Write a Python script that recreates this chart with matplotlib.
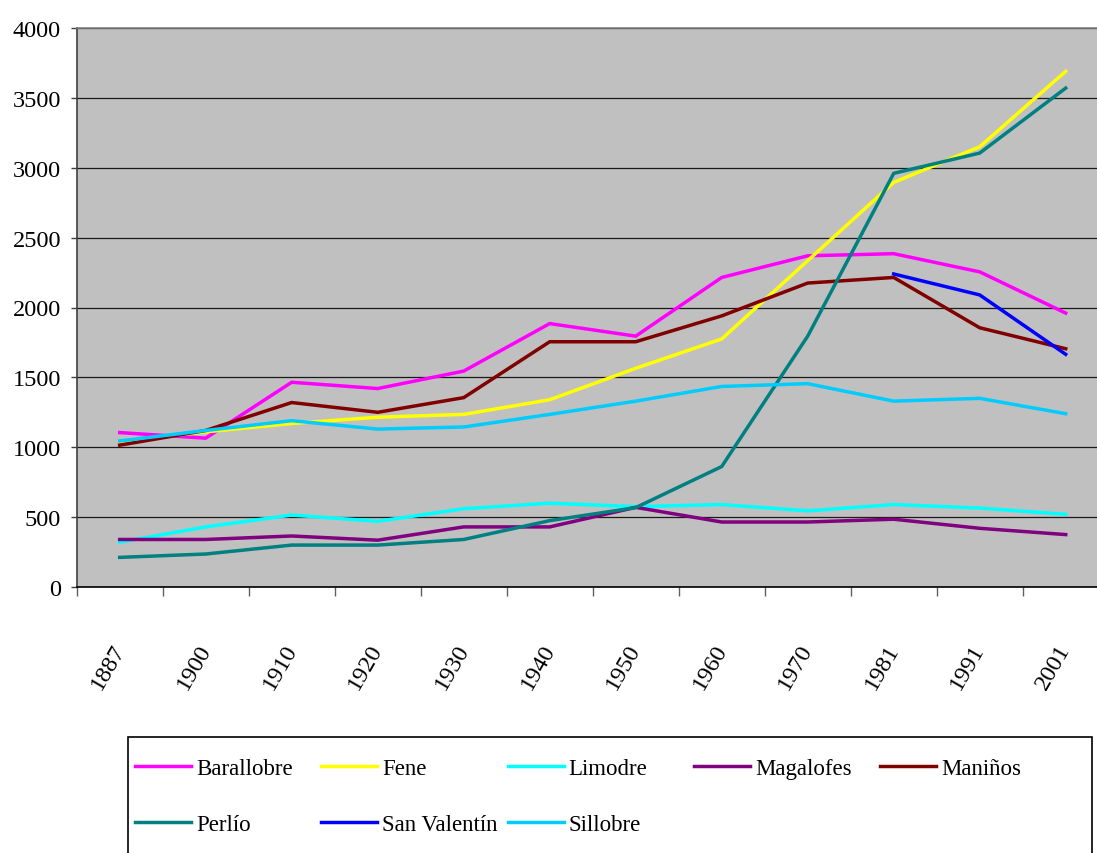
import numpy as np
import matplotlib
matplotlib.use("Agg")
import matplotlib.pyplot as plt
from matplotlib.lines import Line2D
from matplotlib.patches import Rectangle
from matplotlib.transforms import ScaledTranslation

plt.rcParams['font.family'] = ['Liberation Serif', 'DejaVu Serif']

years = ["1887", "1900", "1910", "1920", "1930", "1940",
         "1950", "1960", "1970", "1981", "1991", "2001"]

barallobre = [1105, 1065, 1465, 1420, 1545, 1885, 1795, 2215, 2370, 2385, 2255, 1960]
fene = [1040, 1110, 1170, 1215, 1235, 1340, 1565, 1775, 2335, 2895, 3150, 3690]
limodre = [320, 430, 515, 470, 560, 600, 575, 590, 545, 590, 565, 520]
magalofes = [340, 340, 365, 335, 430, 430, 570, 465, 465, 485, 420, 375]
maninos = [1015, 1120, 1320, 1250, 1355, 1755, 1755, 1940, 2175, 2215, 1855, 1705]
perlio = [212, 236, 300, 300, 340, 475, 568, 862, 1795, 2960, 3105, 3570]
san_valentin = [np.nan] * 9 + [2240, 2090, 1665]
sillobre = [1045, 1120, 1190, 1130, 1145, 1235, 1330, 1435, 1455, 1330, 1350, 1240]

series = [
    ("Barallobre", barallobre, "#FF00FF"),
    ("Fene", fene, "#FFFF00"),
    ("Limodre", limodre, "#00FFFF"),
    ("Magalofes", magalofes, "#800080"),
    ("Maniños", maninos, "#800000"),
    ("Perlío", perlio, "#008080"),
    ("San Valentín", san_valentin, "#0000FF"),
    ("Sillobre", sillobre, "#00CCFF"),
]

W, H = 1097, 854
fig = plt.figure(figsize=(W / 100, H / 100), dpi=100)
# plot area runs a bit past the right edge, as in the original
ax = fig.add_axes([76.7 / W, 1 - 588 / H, (12 * 86) / W, (588 - 29) / H])
ax.set_facecolor("#C0C0C0")

x = np.arange(len(years))
for name, vals, col in series:
    ax.plot(x, vals, color=col, lw=2.5, solid_joinstyle="miter")

ax.set_xlim(-0.5, len(years) - 0.5)
ax.set_ylim(0, 4000)
ax.set_yticks(np.arange(0, 4001, 500))
ax.yaxis.grid(True, color="#1a1a1a", lw=0.9)
ax.set_axisbelow(True)

for s in ["top", "right"]:
    ax.spines[s].set_color("#808080")
    ax.spines[s].set_linewidth(1.2)
ax.spines["left"].set_color("#404040")
ax.spines["left"].set_linewidth(1.2)
ax.spines["bottom"].set_color("#000000")
ax.spines["bottom"].set_linewidth(1.2)

ax.tick_params(axis="y", direction="out", length=4.3, width=1, color="#404040",
               pad=7, labelsize=17.5)

# category labels at centres, tick marks between categories
ax.set_xticks(x)
ax.set_xticklabels(years, rotation=60, ha="center", va="top", fontsize=17.5)
ax.set_xticks(np.arange(-0.5, len(years), 1), minor=True)
ax.tick_params(axis="x", which="major", length=0, pad=38)
ax.tick_params(axis="x", which="minor", direction="out", length=6.2, width=1,
               color="#606060")
for lab in ax.get_xticklabels():
    lab.set_transform(lab.get_transform() + ScaledTranslation(-0.12, 0, fig.dpi_scale_trans))

# legend box drawn like the Excel one
fig.add_artist(Rectangle((128 / W, 1 - 870 / H), (1092 - 128) / W, (870 - 738) / H,
                         transform=fig.transFigure, facecolor="white",
                         edgecolor="black", lw=1.2))
for i, (name, vals, col) in enumerate(series):
    c, r = i % 5, i // 5
    x0 = 135 + 186.3 * c
    yy = 1 - (767 + 56 * r) / H
    fig.add_artist(Line2D([x0 / W, (x0 + 56) / W], [yy, yy], color=col, lw=2.5,
                          transform=fig.transFigure))
    fig.text((x0 + 61) / W, yy, name, fontsize=16.5, ha="left", va="center_baseline")

fig.savefig("out.png", dpi=100)
